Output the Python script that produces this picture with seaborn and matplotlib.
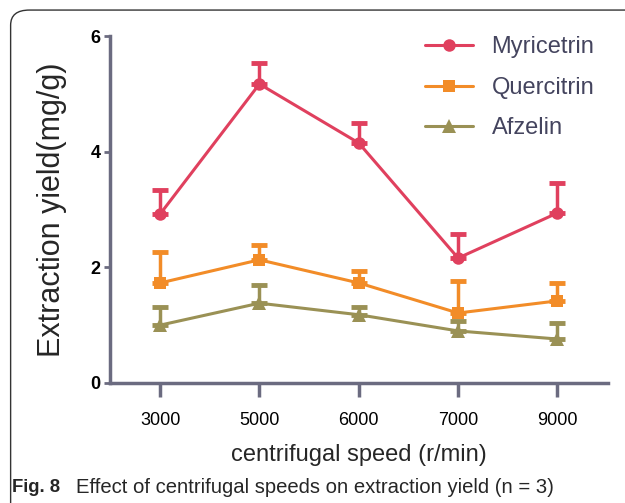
import matplotlib
matplotlib.use("Agg")
import matplotlib.pyplot as plt
from matplotlib.patches import FancyBboxPatch
import seaborn as sns
import pandas as pd
import numpy as np

speeds = ["3000", "5000", "6000", "7000", "9000"]
myricetrin = [2.92, 5.17, 4.15, 2.16, 2.94]
myricetrin_err = [0.42, 0.37, 0.35, 0.42, 0.52]
quercitrin = [1.73, 2.13, 1.73, 1.21, 1.42]
quercitrin_err = [0.54, 0.26, 0.21, 0.55, 0.31]
afzelin = [1.00, 1.38, 1.18, 0.90, 0.76]
afzelin_err = [0.32, 0.32, 0.14, 0.17, 0.28]

series = [
    ("Myricetrin", myricetrin, myricetrin_err, "#e0405e", "o", 9),
    ("Quercitrin", quercitrin, quercitrin_err, "#f28c28", "s", 9),
    ("Afzelin", afzelin, afzelin_err, "#9a9155", "^", 10),
]

sns.set_style("ticks")
plt.rcParams['font.family'] = ['Liberation Sans', 'DejaVu Sans']

fig = plt.figure(figsize=(6.25, 5.03), dpi=100)
ax = fig.add_axes([0.176, 0.2386, 0.797, 0.6898])

xpos = np.arange(len(speeds))
for name, vals, errs, col, mk, ms in series:
    df = pd.DataFrame({"x": xpos, "y": vals})
    sns.lineplot(data=df, x="x", y="y", ax=ax, color=col, marker=mk, markersize=ms,
                 markeredgewidth=0, linewidth=2.2, label=name, zorder=3)
    ax.errorbar(xpos, vals, yerr=[np.zeros(len(vals)), errs], fmt="none", ecolor=col,
                elinewidth=2.5, capsize=6, capthick=3.5, zorder=2)

ax.set_xlim(-0.504, 4.51)
ax.set_ylim(0, 6)
ax.set_yticks([0, 2, 4, 6])
ax.set_xticks(xpos)
ax.set_xticklabels(speeds)
axis_col = "#6b6b80"
for s in ["top", "right"]:
    ax.spines[s].set_visible(False)
for s in ["left", "bottom"]:
    ax.spines[s].set_color(axis_col)
    ax.spines[s].set_linewidth(2.5)
ax.tick_params(axis="y", colors=axis_col, width=2, length=4, pad=3, labelcolor="black")
ax.tick_params(axis="x", colors=axis_col, width=2.5, length=10, pad=11, labelcolor="black")
for lab in ax.get_yticklabels():
    lab.set_fontsize(13)
    lab.set_fontweight("bold")
for lab in ax.get_xticklabels():
    lab.set_fontsize(13)
ax.set_ylabel("Extraction yield(mg/g)", fontsize=22, labelpad=17)
ax.set_xlabel("centrifugal speed (r/min)", fontsize=17, labelpad=11)

leg = ax.legend(loc="upper right", frameon=False, handlelength=2.0,
                labelspacing=0.78, handletextpad=0.8, bbox_to_anchor=(1.015, 1.06),
                prop={"size": 17})
for t in leg.get_texts():
    t.set_color("#44445e")

box = FancyBboxPatch((0.017, -0.05), 1.2, 1.03, boxstyle="round,pad=0,rounding_size=0.03",
                     transform=fig.transFigure, fill=False, edgecolor="#333333",
                     linewidth=1.0, clip_on=False)
fig.patches.append(box)

fig.text(0.02, 0.03, "Fig. 8", fontsize=13.3, fontweight="bold", va="center", ha="left")
fig.text(0.122, 0.03, "Effect of centrifugal speeds on extraction yield (n = 3)",
         fontsize=14.6, va="center", ha="left")

fig.savefig("out.png", dpi=100)
